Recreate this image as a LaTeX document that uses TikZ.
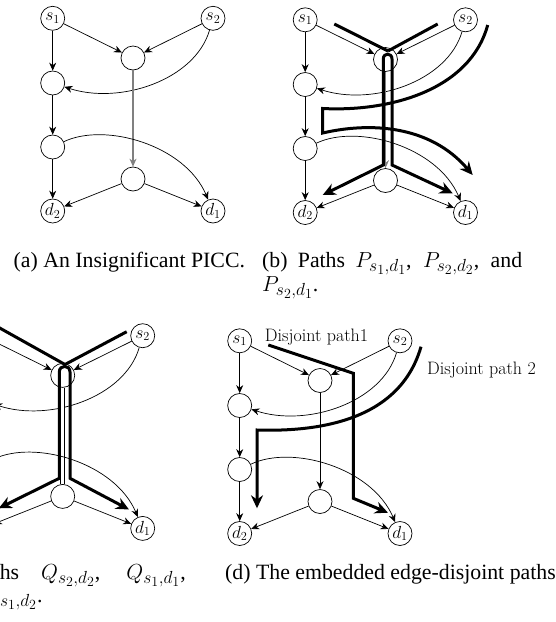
\documentclass[tikz,border=0pt]{standalone}
\usepackage{fontspec}
\usepackage{fix-cm}
\newfontfamily\capfont{Liberation Serif}
\DeclareMathSizes{21.8}{21.8}{17.5}{14}
\usetikzlibrary{arrows.meta}
\tikzset{
 vtx/.style={circle, draw, line width=0.7pt, minimum size=24pt, inner sep=0pt, font=\fontsize{17.5}{18}\selectfont},
 edg/.style={line width=0.7pt, -{Stealth[length=8pt,width=7pt]}},
 grayedge/.style={edg, draw=gray, line width=1.1pt},
 dbledge/.style={line width=0.6pt, double, double distance=3.5pt},
 thk/.style={line width=3pt, line cap=butt, line join=miter},
 thka/.style={thk, -{Stealth[length=13pt,width=12pt]}},
 thkb/.style={thk, {Stealth[length=13pt,width=12pt]}-{Stealth[length=13pt,width=12pt]}},
 captxt/.style={inner sep=0pt, font=\capfont\fontsize{21.8}{26}\selectfont},
 lbl/.style={inner sep=0pt, font=\fontsize{18}{18}\selectfont},
}
\newcommand\drawgraph[4]{%
 \begin{scope}[shift={(#2,#3)}]
 \node[vtx] (#1s1) at (52.7,18.3) {$s_1$};
 \node[vtx] (#1s2) at (213,18.3) {$s_2$};
 \node[vtx] (#1m1) at (133,58) {};
 \node[vtx] (#1L1) at (52.7,83) {};
 \node[vtx] (#1L2) at (52.7,147) {};
 \node[vtx] (#1m2) at (133,179) {};
 \node[vtx] (#1d2) at (52.7,211) {$d_2$};
 \node[vtx] (#1d1) at (213,211) {$d_1$};
 \draw[edg] (#1s1) -- (#1L1);
 \draw[edg] (#1s1) -- (#1m1);
 \draw[edg] (#1s2) -- (#1m1);
 \draw[edg] (#1s2) .. controls (195,80) and (120,105) .. (#1L1);
 \draw[#4] (#1m1) -- (#1m2);
 \draw[edg] (#1L1) -- (#1L2);
 \draw[edg] (#1L2) -- (#1d2);
 \draw[edg] (#1L2) .. controls (105,122) and (185,145) .. (#1d1);
 \draw[edg] (#1m2) -- (#1d2);
 \draw[edg] (#1m2) -- (#1d1);
 \end{scope}}
\begin{document}
\begin{tikzpicture}[x=1pt,y=-1pt]
\useasboundingbox (0,0) rectangle (556,622);
\clip (0,0) rectangle (556,622);
\fill[white] (0,0) rectangle (556,622);
% (a)
\drawgraph{a}{0}{0}{grayedge}
% (b)
\drawgraph{b}{252.5}{1.5}{grayedge}
\coordinate (bV) at (388,51);
\draw[thk] (334.3,24) -- (bV);
\draw[thk] (437.7,24) -- (bV);
\draw[thkb] (322.7,195) -- (383.3,165) -- (383.3,59) .. controls (383.3,52.5) and (392,52.5) .. (392,59) -- (392,165) -- (452.7,193.3);
\draw[thka] (487.7,25) .. controls (470,90) and (390,112) .. (322.7,108.5) -- (322.7,133) .. controls (370,122) and (430,125) .. (472.7,175);
% (c)
\drawgraph{c}{-70.3}{317.4}{dbledge}
\coordinate (cV) at (65,364.5);
\draw[thk] (-20,317) -- (cV);
\draw[thk] (126.7,331.7) -- (cV);
\draw[thkb] (-1.3,508.3) -- (59.3,478.3) -- (59.3,372) .. controls (59.3,364.5) and (70,364.5) .. (70,372) -- (70,478.3) -- (129,509.5);
% (d)
\drawgraph{d}{187}{322.5}{edg}
\draw[thka] (268.3,345) -- (353.3,373.3) -- (353.3,498.3) -- (388,512.7);
\draw[thka] (421,346.7) .. controls (400,420) and (320,432) .. (257,430) -- (257,508.3);
\node[lbl] (lab1) at (316.5,337) {Disjoint path1};
\node[lbl] (lab2) at (481.5,370) {Disjoint path 2};
% captions
\node[captxt, anchor=base west] (capa) at (13.5,267) {(a) An Insignificant PICC.};
\node[captxt, anchor=base west] (capb1) at (262,267) {\makebox[260pt][s]{(b) Paths $P_{s_1,d_1}$, $P_{s_2,d_2}$, and}};
\node[captxt, anchor=base west] (capb2) at (262,291) {$P_{s_2,d_1}$.};
\node[captxt, anchor=base east] (capc1) at (186,579) {\makebox[260pt][s]{(c) Paths $Q_{s_2,d_2}$, $Q_{s_1,d_1}$,}};
\node[captxt, anchor=base west] (capc2) at (-17,602) {$Q_{s_1,d_2}$.};
\node[captxt, anchor=base west] (capd) at (225,579) {(d) The embedded edge-disjoint paths};
\end{tikzpicture}
\end{document}
